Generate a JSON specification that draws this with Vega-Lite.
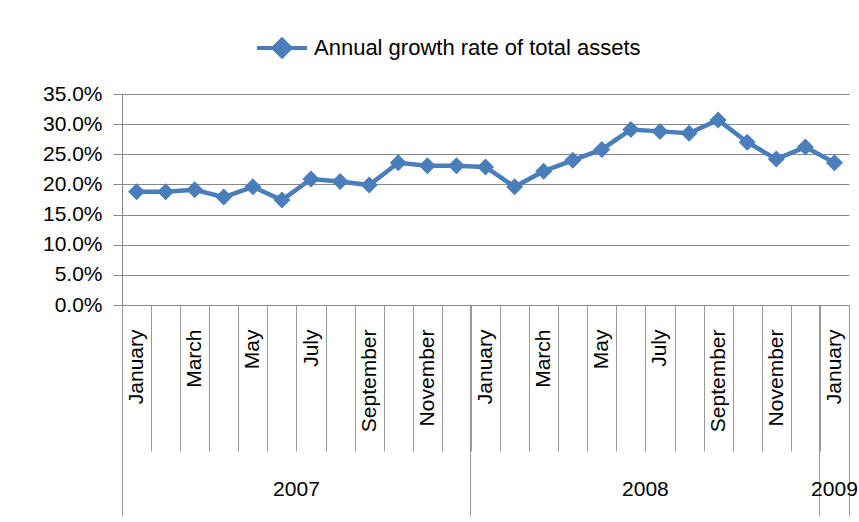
{
  "$schema": "https://vega.github.io/schema/vega-lite/v6.json",
  "width": 727,
  "height": 211,
  "autosize": "none",
  "padding": {"left": 122, "top": 94, "right": 10, "bottom": 217},
  "background": "white",
  "config": {"view": {"stroke": null}, "font": "Liberation Sans"},
  "data": {"values": [
    {"month": "2007-01", "rate": 0.188},
    {"month": "2007-02", "rate": 0.188},
    {"month": "2007-03", "rate": 0.191},
    {"month": "2007-04", "rate": 0.179},
    {"month": "2007-05", "rate": 0.196},
    {"month": "2007-06", "rate": 0.174},
    {"month": "2007-07", "rate": 0.209},
    {"month": "2007-08", "rate": 0.205},
    {"month": "2007-09", "rate": 0.199},
    {"month": "2007-10", "rate": 0.236},
    {"month": "2007-11", "rate": 0.231},
    {"month": "2007-12", "rate": 0.231},
    {"month": "2008-01", "rate": 0.229},
    {"month": "2008-02", "rate": 0.196},
    {"month": "2008-03", "rate": 0.222},
    {"month": "2008-04", "rate": 0.240},
    {"month": "2008-05", "rate": 0.258},
    {"month": "2008-06", "rate": 0.291},
    {"month": "2008-07", "rate": 0.288},
    {"month": "2008-08", "rate": 0.285},
    {"month": "2008-09", "rate": 0.307},
    {"month": "2008-10", "rate": 0.270},
    {"month": "2008-11", "rate": 0.242},
    {"month": "2008-12", "rate": 0.262},
    {"month": "2009-01", "rate": 0.236}
  ]},
  "encoding": {
    "y": {
      "field": "rate", "type": "quantitative",
      "scale": {"domain": [0, 0.35], "nice": false},
      "axis": {
        "title": null, "values": [0, 0.05, 0.1, 0.15, 0.2, 0.25, 0.3, 0.35],
        "format": ".1%", "tickSize": 9, "tickColor": "#888888", "domainColor": "#888888",
        "grid": true, "gridColor": "#888888", "labelPadding": 11,
        "labelFontSize": 21, "labelColor": "#000000", "labelFont": "Liberation Sans"
      }
    },
    "color": {
      "datum": "Annual growth rate of total assets", "type": "nominal",
      "scale": {"range": ["#4a7ebb"]},
      "legend": {
        "title": null, "orient": "none", "legendX": 133, "legendY": -73,
        "padding": 0,
        "symbolType": "M-1,0L1,0M-0.34,0L0,-0.34L0.34,0L0,0.34Z",
        "symbolSize": 2500, "symbolStrokeWidth": 4,
        "symbolFillColor": "#4a7ebb", "symbolStrokeColor": "#4a7ebb",
        "labelFontSize": 22, "labelOffset": 5, "labelColor": "#000000",
        "labelFont": "Liberation Sans", "labelLimit": 600
      }
    }
  },
  "layer": [
    {
      "mark": {"type": "line", "strokeWidth": 4.5},
      "encoding": {
        "x": {
          "field": "month", "type": "ordinal", "sort": null,
          "scale": {"type": "band", "paddingInner": 0, "paddingOuter": 0},
          "axis": {
            "orient": "bottom", "title": null,
            "tickBand": "extent", "tickSize": 146, "tickColor": "#9a9a9a", "tickWidth": 1,
            "domainColor": "#888888",
            "labelAngle": -90, "labelAlign": "right", "labelBaseline": "middle",
            "labelPadding": -122, "labelFontSize": 21, "labelColor": "#000000",
            "labelFont": "Liberation Sans",
            "labelOverlap": false, "labelBound": false, "labelFlush": false,
            "labelExpr": "isString(datum.value) ? (['January','','March','','May','','July','','September','','November',''][toNumber(substring(datum.value,5,7))-1] || '') : ''"
          }
        }
      }
    },
    {
      "mark": {"type": "point", "shape": "diamond", "filled": true, "size": 289, "opacity": 1},
      "encoding": {
        "x": {
          "field": "month", "type": "ordinal", "sort": null,
          "axis": {
            "orient": "bottom", "title": null, "domain": false, "grid": false,
            "bandPosition": 1, "tickExtra": true,
            "values": ["2007-01", "2007-06", "2007-12", "2008-06", "2008-12", "2009-01"],
            "tickSize": 211, "tickColor": "#9a9a9a", "tickWidth": 1,
            "tickOpacity": {"condition": {"test": "datum.value == '2007-01' || datum.value == '2007-06' || datum.value == '2008-06'", "value": 0}, "value": 1},
            "labelExpr": "datum.value == '2007-06' ? '2007' : datum.value == '2008-06' ? '2008' : datum.value == '2009-01' ? '2009' : ''",
            "labelOffset": {"condition": {"test": "datum.value == '2009-01'", "value": 0}, "value": 14.54},
            "labelAngle": 0, "labelAlign": "center", "labelBaseline": "middle", "labelPadding": -27,
            "labelFontSize": 21, "labelColor": "#000000", "labelFont": "Liberation Sans",
            "labelOverlap": false, "labelBound": false, "labelFlush": false
          }
        }
      }
    }
  ],
  "resolve": {"axis": {"x": "independent"}}
}
